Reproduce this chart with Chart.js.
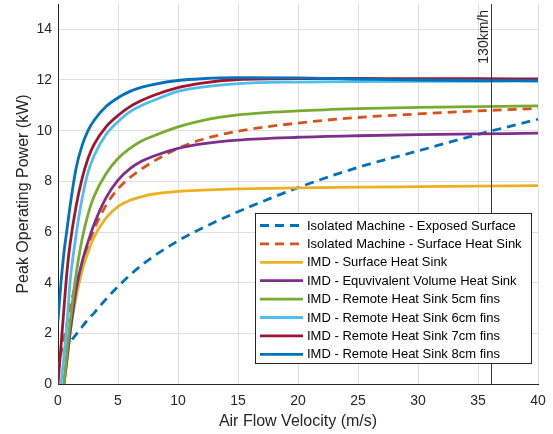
<!DOCTYPE html>
<html>
<head>
<meta charset="utf-8">
<script src="https://cdn.jsdelivr.net/npm/chart.js@4/dist/chart.umd.min.js"></script>
<style>
  html, body { margin: 0; padding: 0; background: #fff; }
  #wrap { width: 553px; height: 434px; }
</style>
</head>
<body>
<div id="wrap"><canvas id="chart" width="553" height="434"></canvas></div>
<script>
// Air flow velocity (m/s) shared by every curve
var speed = [0, 0.25, 0.5, 0.75, 1, 1.5, 2, 2.5, 3, 4, 5, 6, 7, 8, 10, 12, 15, 20, 25, 30, 35, 40];

// Peak operating power (kW) per configuration
var isoExposed   = [null, null, 1.25, 1.45, 1.65, 1.95, 2.25, 2.55, 2.8, 3.35, 3.85, 4.3, 4.7, 5.05, 5.65, 6.15, 6.8, 7.75, 8.55, 9.2, 9.85, 10.45];
var isoHeatSink  = [0.5, 1.2, 1.8, 2.4, 3.0, 4.0, 4.7, 5.45, 6.1, 7.05, 7.7, 8.15, 8.5, 8.8, 9.3, 9.65, 9.98, 10.3, 10.52, 10.66, 10.78, 10.88];
var imdSurface   = [null, null, 0.0, 0.9, 2.0, 3.4, 4.45, 5.2, 5.8, 6.55, 7.0, 7.25, 7.4, 7.5, 7.6, 7.65, 7.7, 7.74, 7.77, 7.79, 7.81, 7.83];
var imdEquivVol  = [null, null, 0.0, 1.0, 2.0, 3.7, 4.8, 5.6, 6.3, 7.35, 8.05, 8.5, 8.8, 9.0, 9.3, 9.48, 9.63, 9.74, 9.8, 9.84, 9.87, 9.9];
var remote5cm    = [null, null, 0.0, 1.3, 2.4, 4.3, 5.7, 6.7, 7.4, 8.3, 8.9, 9.3, 9.6, 9.8, 10.15, 10.4, 10.62, 10.78, 10.87, 10.92, 10.95, 10.98];
var remote6cm    = [null, 0.0, 1.1, 2.4, 4.0, 5.85, 7.3, 8.35, 9.0, 9.85, 10.35, 10.75, 11.0, 11.2, 11.55, 11.72, 11.86, 11.92, 11.94, 11.95, 11.95, 11.96];
var remote7cm    = [0.0, 1.5, 3.0, 4.45, 5.5, 7.0, 8.1, 8.9, 9.45, 10.15, 10.6, 10.95, 11.2, 11.4, 11.7, 11.88, 12.02, 12.06, 12.06, 12.05, 12.05, 12.04];
var remote8cm    = [2.5, 4.0, 5.2, 6.1, 7.0, 8.5, 9.4, 10.0, 10.4, 10.95, 11.3, 11.55, 11.72, 11.83, 11.98, 12.05, 12.09, 12.08, 12.04, 12.0, 11.98, 11.97];

var seriesNames = [
  'Isolated Machine - Exposed Surface',
  'Isolated Machine - Surface Heat Sink',
  'IMD - Surface Heat Sink',
  'IMD - Equvivalent Volume Heat Sink',
  'IMD - Remote Heat Sink 5cm fins',
  'IMD - Remote Heat Sink 6cm fins',
  'IMD - Remote Heat Sink 7cm fins',
  'IMD - Remote Heat Sink 8cm fins'
];
var seriesValues = [isoExposed, isoHeatSink, imdSurface, imdEquivVol, remote5cm, remote6cm, remote7cm, remote8cm];
var seriesColors = ['#0072BD', '#D95319', '#EDB120', '#7E2F8E', '#77AC30', '#4DBEEE', '#A2142F', '#0072BD'];
var seriesDashed = [true, true, false, false, false, false, false, false];

var xTicks = [0, 5, 10, 15, 20, 25, 30, 35, 40];
var yTicks = [0, 2, 4, 6, 8, 10, 12, 14];

// 130 km/h in m/s
var markerSpeed = 130 / 3.6;
var markerLabel = '130km/h';

var AXIS = '#262626';
var GRID = '#dfdfdf';
var FONT = '"Liberation Sans", Arial, Helvetica, sans-serif';
var DASH = [9, 6];
var LINE_W = 2.8;

function points(vals) {
  var out = [];
  speed.forEach(function(s, i) {
    if (vals[i] != null) out.push({ x: s, y: vals[i] });
  });
  return out;
}

var datasets = seriesValues.map(function(vals, i) {
  return {
    label: seriesNames[i],
    data: points(vals),
    borderColor: seriesColors[i],
    backgroundColor: seriesColors[i],
    borderWidth: LINE_W,
    borderDash: seriesDashed[i] ? DASH : [],
    pointRadius: 0,
    fill: false,
    cubicInterpolationMode: 'monotone',
    clip: { left: 0, top: 4, right: 4, bottom: 0 },
    order: seriesValues.length - i
  };
});

// vertical speed marker and its rotated label
var markerPlugin = {
  id: 'marker',
  afterDatasetsDraw: function(chart) {
    var ctx = chart.ctx, area = chart.chartArea;
    var x = Math.round(chart.scales.x.getPixelForValue(markerSpeed)) + 0.5;
    ctx.save();
    ctx.strokeStyle = '#3a3a3a';
    ctx.lineWidth = 1;
    ctx.beginPath();
    ctx.moveTo(x, area.top);
    ctx.lineTo(x, area.bottom);
    ctx.stroke();
    ctx.translate(x - 4, area.top + 6);
    ctx.rotate(-Math.PI / 2);
    ctx.fillStyle = AXIS;
    ctx.font = '14px ' + FONT;
    ctx.textAlign = 'right';
    ctx.textBaseline = 'alphabetic';
    ctx.fillText(markerLabel, 0, 0);
    ctx.restore();
  }
};

// boxed legend inside the lower right of the plot
var legendBoxPlugin = {
  id: 'legendBox',
  afterDraw: function(chart) {
    var ctx = chart.ctx, area = chart.chartArea;
    var left = area.right - 283, top = area.top + 209;
    var w = 276, h = 150, rowH = 18.4;
    ctx.save();
    ctx.fillStyle = '#fff';
    ctx.fillRect(left, top, w, h);
    ctx.strokeStyle = AXIS;
    ctx.lineWidth = 1;
    ctx.strokeRect(left + 0.5, top + 0.5, w, h);
    ctx.font = '13px ' + FONT;
    ctx.textBaseline = 'middle';
    ctx.textAlign = 'left';
    seriesNames.forEach(function(name, i) {
      var y = top + 12.5 + i * rowH;
      ctx.strokeStyle = seriesColors[i];
      ctx.lineWidth = LINE_W;
      ctx.setLineDash(seriesDashed[i] ? DASH : []);
      ctx.beginPath();
      ctx.moveTo(left + 5, y);
      ctx.lineTo(left + 48, y);
      ctx.stroke();
      ctx.setLineDash([]);
      ctx.fillStyle = '#000';
      ctx.fillText(name, left + 52, y + 0.5);
    });
    ctx.restore();
  }
};

new Chart(document.getElementById('chart').getContext('2d'), {
  type: 'line',
  data: { datasets: datasets },
  options: {
    responsive: false,
    animation: false,
    layout: { padding: { left: 0, right: 15, top: 4, bottom: 0 } },
    plugins: {
      legend: { display: false },
      tooltip: { enabled: false }
    },
    scales: {
      x: {
        type: 'linear',
        min: 0,
        max: 40,
        afterFit: function(scale) {
          scale.height = 50;
          scale.paddingLeft = 0;
          scale.paddingRight = 0;
        },
        afterBuildTicks: function(scale) {
          scale.ticks = xTicks.map(function(v) { return { value: v }; });
        },
        grid: { color: GRID, lineWidth: 1, drawTicks: false },
        border: { display: true, color: AXIS, width: 1 },
        ticks: { padding: 9, color: AXIS, font: { family: FONT, size: 14 }, maxRotation: 0 },
        title: {
          display: true,
          text: 'Air Flow Velocity (m/s)',
          color: AXIS,
          font: { family: FONT, size: 16 },
          padding: { top: 0, bottom: 2.5 }
        }
      },
      y: {
        type: 'linear',
        min: 0,
        max: 15,
        afterFit: function(scale) {
          scale.width = 58;
          scale.paddingTop = 0;
          scale.paddingBottom = 0;
        },
        afterBuildTicks: function(scale) {
          scale.ticks = yTicks.map(function(v) { return { value: v }; });
        },
        grid: { color: GRID, lineWidth: 1, drawTicks: false },
        border: { display: true, color: AXIS, width: 1 },
        ticks: { padding: 6, color: AXIS, font: { family: FONT, size: 14 } },
        title: {
          display: true,
          text: 'Peak Operating Power (kW)',
          color: AXIS,
          font: { family: FONT, size: 16 },
          padding: { top: 14, bottom: 0 }
        }
      }
    }
  },
  plugins: [markerPlugin, legendBoxPlugin]
});
</script>
</body>
</html>
